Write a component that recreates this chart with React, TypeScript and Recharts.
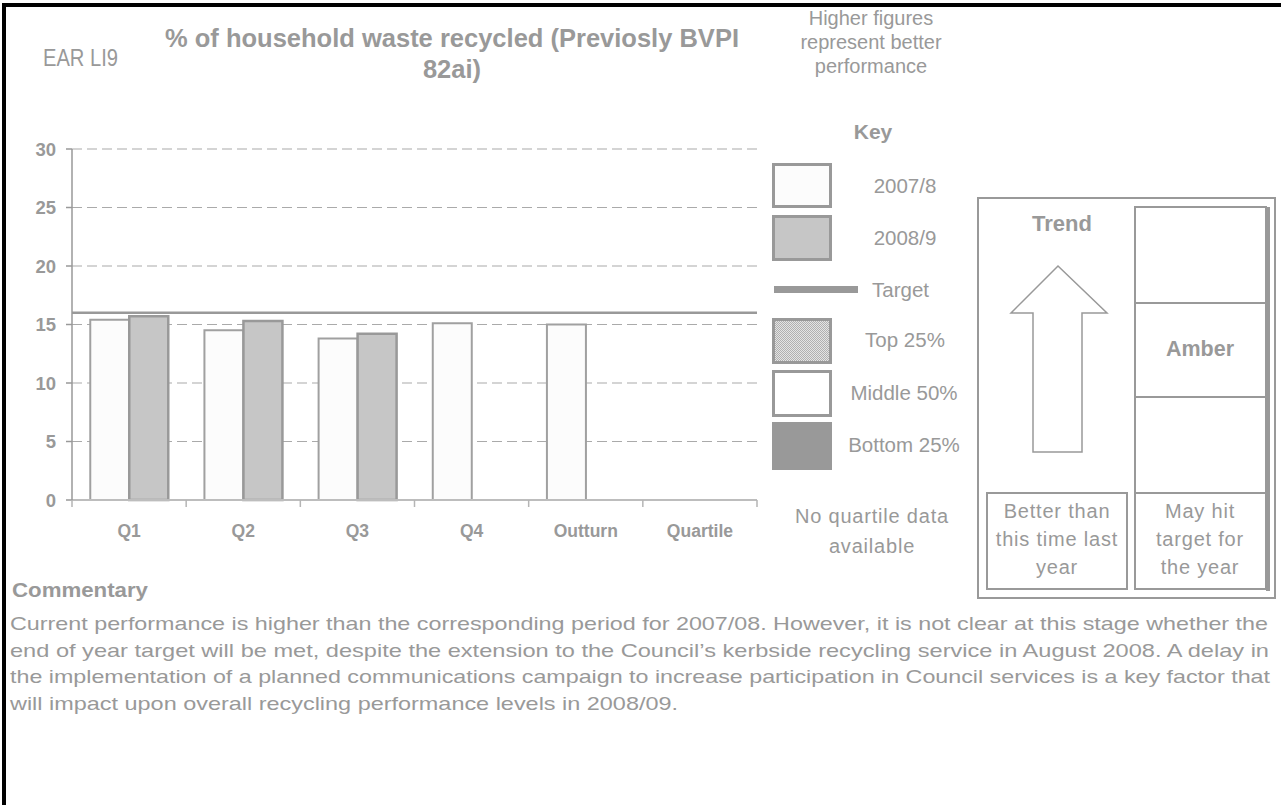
import { Bar, BarChart, CartesianGrid, ReferenceLine, XAxis, YAxis } from "recharts"

const categories = ["Q1", "Q2", "Q3", "Q4", "Outturn", "Quartile"]
const prevYear = [15.4, 14.5, 13.8, 15.1, 15.0, null]
const thisYear = [15.7, 15.3, 14.2, null, null, null]
const targetValue = 16
const yTicks = [0, 5, 10, 15, 20, 25, 30]

const commentaryLines = [
  "Current performance is higher than the corresponding period for 2007/08.  However, it is not clear at this stage whether the",
  "end of year target will be met, despite the extension to the Council\u2019s kerbside recycling service in August 2008. A delay in",
  "the implementation of a planned communications campaign to increase participation in Council services is a key factor that",
  "will impact upon overall recycling performance levels in 2008/09.",
]
// rendered width of each commentary line (the first three are justified)
const commentaryWidths = [1258, 1259, 1260, 668]

const data = categories.map((label, i) => ({
  label,
  prev: prevYear[i],
  curr: thisYear[i],
}))

const GREY = "#999999"
const FONT = "'Liberation Sans', Arial, sans-serif"

// category label plus Excel-style tick marks on the category boundaries
function CategoryTick(props: any) {
  const { x, y, payload, index, width, visibleTicksCount } = props
  const band = width / visibleTicksCount
  const axisY = y - 9
  return (
    <g>
      <line x1={x - band / 2} x2={x - band / 2} y1={axisY} y2={axisY + 7} stroke="#b5b5b5" strokeWidth={1.5} />
      {index === visibleTicksCount - 1 && (
        <line x1={x + band / 2} x2={x + band / 2} y1={axisY} y2={axisY + 7} stroke="#b5b5b5" strokeWidth={1.5} />
      )}
      <text x={x} y={axisY + 37} textAnchor="middle" fill={GREY} fontSize={17.5} fontWeight="bold" fontFamily={FONT}>
        {payload.value}
      </text>
    </g>
  )
}

function Swatch({ y, h, fill }: { y: number; h: number; fill: string }) {
  return <rect x={773.5} y={y + 1.5} width={57} height={h - 3} fill={fill} stroke={GREY} strokeWidth={3} />
}

function Label({ x, y, size = 20.5, bold = false, anchor = "middle", spacing = 0, length, children }: any) {
  return (
    <text
      x={x}
      y={y}
      textAnchor={anchor}
      fontSize={size}
      fontWeight={bold ? "bold" : "normal"}
      fontFamily={FONT}
      fill={GREY}
      letterSpacing={spacing}
      textLength={length}
      lengthAdjust={length ? "spacingAndGlyphs" : undefined}
    >
      {children}
    </text>
  )
}

export default function App() {
  return (
    <div style={{ position: "relative", width: 1281, height: 805, background: "#fff", overflow: "hidden" }}>
      <style>{`body { margin: 0; }`}</style>
      <div
        style={{
          position: "absolute",
          left: 2,
          top: 3,
          right: -10,
          bottom: -10,
          borderTop: "4px solid #000",
          borderLeft: "4px solid #000",
        }}
      />

      <div style={{ position: "absolute", left: 0, top: 0 }}>
        <BarChart
          width={780}
          height={560}
          data={data}
          margin={{ top: 149, right: 23, left: 0, bottom: 0 }}
          barCategoryGap="16%"
          barGap={0}
        >
          <CartesianGrid horizontal vertical={false} stroke="#aaaaaa" strokeDasharray="10 5" strokeWidth={1.2} />
          <XAxis
            dataKey="label"
            height={60}
            axisLine={{ stroke: "#bdbdbd", strokeWidth: 2 }}
            tickLine={false}
            tickSize={7}
            tickMargin={2}
            interval={0}
            tick={<CategoryTick />}
          />
          <YAxis
            width={72}
            domain={[0, 30]}
            ticks={yTicks}
            interval={0}
            axisLine={{ stroke: GREY, strokeWidth: 1.5 }}
            tickLine={{ stroke: GREY, strokeWidth: 1.5 }}
            tickSize={6}
            tickMargin={10}
            tick={{ fill: GREY, fontSize: 18.5, fontWeight: "bold", fontFamily: FONT }}
          />
          <Bar dataKey="prev" fill="#fcfcfc" stroke="#a0a0a0" strokeWidth={2} isAnimationActive={false} />
          <Bar dataKey="curr" fill="#c6c6c6" stroke={GREY} strokeWidth={2.5} isAnimationActive={false} />
          <ReferenceLine y={targetValue} stroke={GREY} strokeWidth={2.5} ifOverflow="extendDomain" />
        </BarChart>
      </div>

      <svg width={1281} height={805} style={{ position: "absolute", left: 0, top: 0, pointerEvents: "none" }}>
        <defs>
          <pattern id="dots" width={2} height={2} patternUnits="userSpaceOnUse">
            <rect width={2} height={2} fill="#e4e4e4" />
            <rect width={1} height={1} fill="#b0b0b0" />
            <rect x={1} y={1} width={1} height={1} fill="#b0b0b0" />
          </pattern>
        </defs>

        {/* header */}
        <Label x={43} y={66} size={23} anchor="start" length={75}>EAR LI9</Label>
        <Label x={452} y={47} size={25.5} bold>% of household waste recycled (Previosly BVPI</Label>
        <Label x={452} y={78} size={25.5} bold>82ai)</Label>
        <Label x={871} y={25} size={20}>Higher figures</Label>
        <Label x={871} y={49} size={20}>represent better</Label>
        <Label x={871} y={73} size={20}>performance</Label>

        {/* key */}
        <Label x={873} y={139} size={21} bold>Key</Label>
        <Swatch y={163} h={45} fill="#fcfcfc" />
        <Label x={905} y={193}>2007/8</Label>
        <Swatch y={215} h={46} fill="#c6c6c6" />
        <Label x={905} y={245}>2008/9</Label>
        <rect x={774} y={286} width={84} height={7} fill={GREY} />
        <Label x={872} y={297} anchor="start">Target</Label>
        <Swatch y={318} h={46} fill="url(#dots)" />
        <Label x={905} y={347}>Top 25%</Label>
        <Swatch y={370} h={47} fill="#ffffff" />
        <Label x={904} y={400}>Middle 50%</Label>
        <rect x={772} y={422} width={60} height={48} fill={GREY} />
        <Label x={904} y={452}>Bottom 25%</Label>
        <Label x={872} y={523} size={20} spacing={0.8}>No quartile data</Label>
        <Label x={872} y={553} size={20} spacing={0.8}>available</Label>

        {/* trend / status panel */}
        <rect x={978} y={198} width={297} height={400} fill="none" stroke={GREY} strokeWidth={2} />
        <Label x={1062} y={231} size={22} bold>Trend</Label>
        <polygon
          points="1058,266 1107,313 1082,313 1082,452 1033,452 1033,313 1011,313"
          fill="#fff"
          stroke={GREY}
          strokeWidth={1.5}
        />
        <rect x={987} y={493} width={140} height={96} fill="none" stroke={GREY} strokeWidth={2} />
        <Label x={1057} y={518} size={20} spacing={0.8}>Better than</Label>
        <Label x={1057} y={546} size={20} spacing={0.8}>this time last</Label>
        <Label x={1057} y={574} size={20} spacing={0.8}>year</Label>

        <rect x={1135} y={207} width={131} height={96} fill="none" stroke={GREY} strokeWidth={2} />
        <rect x={1135} y={303} width={131} height={94} fill="none" stroke={GREY} strokeWidth={2} />
        <rect x={1135} y={397} width={131} height={96} fill="none" stroke={GREY} strokeWidth={2} />
        <rect x={1135} y={493} width={131} height={96} fill="none" stroke={GREY} strokeWidth={2} />
        <rect x={1266} y={207} width={4} height={384} fill={GREY} />
        <Label x={1200} y={356} size={21.5} bold>Amber</Label>
        <Label x={1200} y={518} size={20} spacing={0.8}>May hit</Label>
        <Label x={1200} y={546} size={20} spacing={0.8}>target for</Label>
        <Label x={1200} y={574} size={20} spacing={0.8}>the year</Label>

        {/* commentary */}
        <Label x={12} y={597} size={20} bold anchor="start" length={136}>Commentary</Label>
        {commentaryLines.map((line, i) => (
          <Label key={i} x={10} y={630 + i * 26.7} size={18.5} anchor="start" length={commentaryWidths[i]}>
            {line}
          </Label>
        ))}
      </svg>
    </div>
  )
}
